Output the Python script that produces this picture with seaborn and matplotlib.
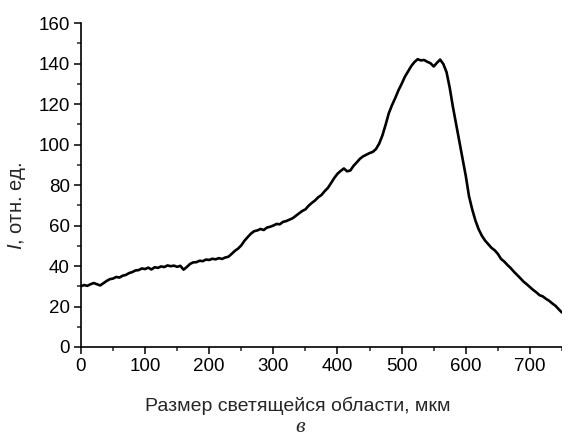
"""
Luminescence intensity profile vs size of the glowing region
"""
import numpy as np
import pandas as pd
import matplotlib
matplotlib.use('Agg')
import matplotlib.pyplot as plt
from matplotlib.ticker import MultipleLocator
import seaborn as sns

# data (5 um step)
size_um = list(range(0, 755, 5))
intensity = [
    30.0, 30.6, 30.2, 31.0, 31.6, 31.0, 30.4, 31.5, 32.6, 33.5,
    33.8, 34.6, 34.3, 35.2, 35.6, 36.5, 37.0, 37.8, 38.0, 38.8,
    38.5, 39.2, 38.3, 39.4, 39.1, 39.8, 39.5, 40.3, 39.9, 40.2,
    39.6, 40.1, 38.2, 39.5, 41.0, 41.8, 41.9, 42.6, 42.4, 43.2,
    43.0, 43.6, 43.3, 43.9, 43.5, 44.2, 44.6, 46.0, 47.5, 48.6,
    50.2, 52.5, 54.3, 56.0, 57.2, 57.6, 58.3, 57.8, 59.0, 59.4,
    60.0, 60.8, 60.6, 61.8, 62.2, 62.9, 63.6, 64.8, 66.0, 67.2,
    68.0, 69.8, 71.2, 72.4, 74.0, 75.1, 77.0, 78.6, 81.0, 83.5,
    85.6, 87.0, 88.2, 86.8, 87.2, 89.5, 91.2, 93.0, 94.2, 95.0,
    95.8, 96.4, 97.8, 100.5, 104.5, 109.8, 115.5, 119.5, 123.0, 126.8,
    130.0, 133.5, 136.2, 138.8, 140.8, 142.2, 141.6, 141.8, 140.9, 140.2,
    138.6, 140.4, 142.0, 139.8, 135.8, 128.0, 118.5, 110.0, 101.5, 93.0,
    84.5, 74.5, 68.0, 62.5, 58.2, 55.0, 52.6, 50.8, 49.0, 47.8,
    46.0, 43.5, 42.2, 40.5, 39.0, 37.2, 35.6, 34.0, 32.3, 31.0,
    29.6, 28.2, 27.0, 25.6, 25.0, 23.8, 22.8, 21.5, 20.3, 18.6,
    17.0,
]
x_ticks = [0, 100, 200, 300, 400, 500, 600, 700]
y_ticks = [0, 20, 40, 60, 80, 100, 120, 140, 160]

df = pd.DataFrame({'size': size_um, 'I': intensity})

sns.set_style("ticks")
plt.rcParams['font.family'] = ['Liberation Sans', 'DejaVu Sans']
plt.rcParams['mathtext.fontset'] = 'custom'
plt.rcParams['mathtext.it'] = 'Liberation Sans:italic'
plt.rcParams['mathtext.rm'] = 'Liberation Sans'

fig = plt.figure(figsize=(5.62, 4.37), dpi=100)
ax = fig.add_axes([0.144, 0.206, 0.856, 0.741])

sns.lineplot(data=df, x='size', y='I', ax=ax, color='black', linewidth=1.9)

ax.set_xlim(0, 750)
ax.set_ylim(0, 160)
ax.set_xticks(x_ticks)
ax.set_yticks(y_ticks)
ax.xaxis.set_minor_locator(MultipleLocator(50))
ax.yaxis.set_minor_locator(MultipleLocator(10))
ax.tick_params(which='major', direction='out', length=5, width=1.1,
               labelsize=13.5, colors='black', pad=3)
ax.tick_params(which='minor', direction='out', length=3, width=1.1)
sns.despine(ax=ax)
for s in ['left', 'bottom']:
    ax.spines[s].set_linewidth(1.2)
    ax.spines[s].set_color('black')

ax.set_xlabel('Размер светящейся области, мкм', fontsize=14)
ax.xaxis.set_label_coords(0.45, -0.155)
ax.set_ylabel(r'$\mathit{I}$, отн. ед.', fontsize=14.5)
ax.yaxis.set_label_coords(-0.11, 0.435)

fig.text(0.534, 0.012, 'в', fontsize=16, style='italic',
         family='Liberation Serif', ha='center')

plt.savefig('out.png', dpi=100)
